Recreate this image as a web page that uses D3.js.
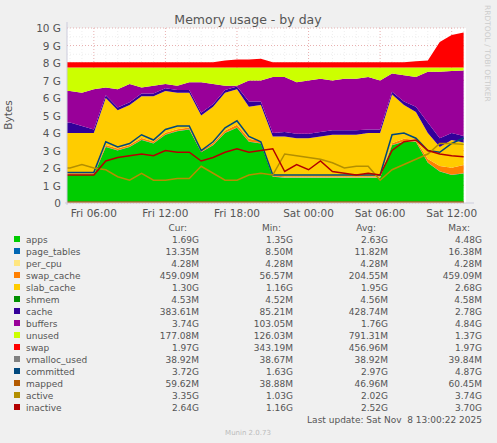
<!DOCTYPE html>
<html><head><meta charset="utf-8">
<script src="https://cdn.jsdelivr.net/npm/d3@7"></script>
<style>body{margin:0;background:#f0f0f0;}text{font-family:"DejaVu Sans",sans-serif;white-space:pre;}</style>
</head><body><svg id="c" width="497" height="443"></svg>
<script>
// hourly samples, Fri 04:00 .. Sat 13:00 (GB)
var hours = d3.range(34);
var apps = [1.6,1.6,1.6,3.2,3.0,3.2,3.6,3.4,3.9,4.1,4.2,2.9,3.3,4.0,4.3,3.5,3.4,1.5,1.45,1.45, 1.45,1.45,1.45,1.45,1.45,1.45,1.45,3.3,3.5,3.5,2.3,1.8,1.6,1.69];
var pageTables = hours.map(function(){return 0.013;});
var perCpu = hours.map(function(){return 0.004;});
var swapCache = [0.08,0.08,0.08,0.1,0.1,0.1,0.1,0.1,0.1,0.1,0.1,0.1,0.1,0.12,0.15,0.15,0.12,0.06,0.06,0.06, 0.06,0.06,0.06,0.06,0.06,0.06,0.06,0.1,0.15,0.1,0.2,0.3,0.4,0.46];
var slabTop = [4.0,4.0,4.0,6.0,5.3,5.6,6.1,6.1,6.4,6.3,6.3,5.0,5.5,6.3,6.5,5.5,5.6,3.8,3.8,3.7, 3.7,3.8,3.9,3.9,3.9,4.0,4.0,6.2,5.6,5.2,4.0,3.2,3.6,3.45];
var shmem = hours.map(function(){return 0.0045;});
var cache = [0.6,0.4,0.2,0.15,0.15,0.15,0.15,0.15,0.15,0.15,0.15,0.15,0.15,0.15,0.15,0.3,0.2,0.2,0.25,0.25, 0.25,0.25,0.25,0.25,0.25,0.2,0.2,0.15,0.2,0.3,0.6,0.5,0.4,0.38];
var buffTop = [6.4,6.3,6.5,6.6,6.5,6.8,6.6,6.7,6.8,6.7,6.9,6.9,6.8,6.7,6.7,7.0,7.0,7.2,7.2,6.9, 7.0,7.1,7.0,7.1,7.1,7.2,7.0,7.4,7.3,7.2,7.5,7.5,7.55,7.57];
var totalTop = [8.05,8.05,8.05,8.05,8.05,8.05,8.05,8.05,8.05,8.05,8.05,8.05,8.05,8.15,8.2,8.2,8.25,8.05,8.05,8.05, 8.05,8.05,8.05,8.05,8.05,8.05,8.05,8.05,8.05,8.1,8.15,9.2,9.6,9.75];
var ram = 7.75;
var committed = [1.75,1.75,1.75,3.5,3.2,3.4,3.9,3.6,4.2,4.4,4.4,3.0,3.5,4.3,4.7,3.8,3.5,1.6,1.6,1.6, 1.6,1.6,1.6,1.6,1.6,1.6,1.6,3.9,4.0,3.7,3.0,2.9,3.4,3.72];
var active = [2.0,2.2,2.0,1.9,1.5,1.3,1.7,1.3,1.3,1.4,1.4,2.1,1.7,1.3,1.3,1.6,1.7,1.6,2.8,2.7, 2.6,2.5,2.3,2.0,2.1,2.1,1.3,1.9,2.2,2.5,2.8,3.4,3.4,3.35];
var inactive = [1.6,1.6,1.6,2.4,2.6,2.7,2.8,2.7,3.0,2.9,2.9,2.4,2.6,2.9,3.1,2.9,3.0,3.1,1.8,2.2, 1.9,2.4,1.8,1.7,1.6,1.7,1.6,3.0,3.5,3.6,3.0,2.8,2.7,2.64];
var vmalloc = hours.map(function(){return 0.039;});
var mapped = hours.map(function(){return 0.05;});
var xTicks = ["Fri 06:00","Fri 12:00","Fri 18:00","Sat 00:00","Sat 06:00","Sat 12:00"];
var yTicks = [0,1,2,3,4,5,6,7,8,9,10];

var legendRows = [
 ["apps","#00CC00","1.69G","1.35G","2.63G","4.48G"],
 ["page_tables","#0066B3","13.35M","8.50M","11.82M","16.38M"],
 ["per_cpu","#FFE680","4.28M","4.28M","4.28M","4.28M"],
 ["swap_cache","#FF8000","459.09M","56.57M","204.55M","459.09M"],
 ["slab_cache","#FFCC00","1.30G","1.16G","1.95G","2.68G"],
 ["shmem","#008F00","4.53M","4.52M","4.56M","4.58M"],
 ["cache","#330099","383.61M","85.21M","428.74M","2.78G"],
 ["buffers","#990099","3.74G","103.05M","1.76G","4.84G"],
 ["unused","#CCFF00","177.08M","126.03M","791.31M","1.37G"],
 ["swap","#FF0000","1.97G","343.19M","456.96M","1.97G"],
 ["vmalloc_used","#808080","38.92M","38.67M","38.92M","39.84M"],
 ["committed","#00487D","3.72G","1.63G","2.97G","4.87G"],
 ["mapped","#B35A00","59.62M","38.88M","46.96M","60.45M"],
 ["active","#B38F00","3.35G","1.03G","2.02G","3.74G"],
 ["inactive","#B30000","2.64G","1.16G","2.52G","3.70G"]
];

var svg = d3.select("#c");
var L = 67, R = 466, T = 28, B = 203;
var x = d3.scaleLinear().domain([-0.25, 33.2]).range([L, R]);
var y = d3.scaleLinear().domain([0, 10]).range([B, T]);

svg.append("rect").attr("x", L).attr("y", T).attr("width", R - L).attr("height", B - T).attr("fill", "#fff");

// grid
var g = svg.append("g");
d3.range(0, 10.01, 0.5).forEach(function(v){
  g.append("line").attr("x1", L).attr("x2", R).attr("y1", y(v)).attr("y2", y(v))
   .attr("stroke", v % 1 ? "#eee" : "#e8b0b0").attr("stroke-dasharray", "1,2");
});
d3.range(-1, 34, 1).forEach(function(h){
  var px = x(h); if (px < L || px > R) return;
  g.append("line").attr("y1", T).attr("y2", B).attr("x1", px).attr("x2", px)
   .attr("stroke", (h + 4) % 6 === 0 ? "#e8b0b0" : "#eee").attr("stroke-dasharray", "1,2");
});

// stacked layers
var layers = [];
var base = hours.map(function(){return 0;});
function add(vals, color){
  var lo = base.slice();
  var hi = base.map(function(b, i){return b + vals[i];});
  layers.push({lo: lo, hi: hi, color: color});
  base = hi;
}
add(apps, "#00CC00");
add(pageTables, "#0066B3");
add(perCpu, "#FFE680");
add(swapCache, "#FF8000");
add(slabTop.map(function(t, i){return t - base[i];}), "#FFCC00");
add(shmem, "#008F00");
add(cache, "#330099");
add(buffTop.map(function(t, i){return Math.max(0, t - base[i]);}), "#990099");
add(buffTop.map(function(t, i){return ram - Math.max(t, base[i]);}), "#CCFF00");
add(totalTop.map(function(t, i){return t - base[i];}), "#FF0000");

var xs = [-0.25].concat(hours);
function ext(a){return [a[0]].concat(a);}
layers.forEach(function(l){
  var lo = ext(l.lo), hi = ext(l.hi);
  svg.append("path").datum(xs).attr("fill", l.color)
    .attr("d", d3.area().x(function(d){return x(d);})
      .y0(function(d, i){return y(lo[i]);}).y1(function(d, i){return y(hi[i]);}));
});

function line(vals, color){
  var v = ext(vals);
  svg.append("path").datum(xs).attr("fill", "none").attr("stroke", color).attr("stroke-width", 1.5)
    .attr("d", d3.line().x(function(d){return x(d);}).y(function(d, i){return y(v[i]);}));
}
line(vmalloc, "#808080");
line(mapped, "#B35A00");
line(committed, "#00487D");
line(active, "#B38F00");
line(inactive, "#B30000");

// axes
svg.append("line").attr("x1", L - 2).attr("x2", R + 8).attr("y1", B).attr("y2", B).attr("stroke", "#ccd");
svg.append("line").attr("x1", L).attr("x2", L).attr("y1", B + 2).attr("y2", T - 6).attr("stroke", "#ccd");
yTicks.forEach(function(v){
  svg.append("text").attr("x", L - 6).attr("y", y(v) + 4).attr("text-anchor", "end")
    .attr("font-size", 10.5).attr("fill", "#555").text(v === 0 ? "0" : v + " G");
});
xTicks.forEach(function(t, i){
  svg.append("text").attr("x", x(2 + i * 6)).attr("y", B + 14).attr("text-anchor", "middle")
    .attr("font-size", 10.5).attr("fill", "#555").text(t);
});
svg.append("text").attr("x", 248).attr("y", 24).attr("text-anchor", "middle")
  .attr("font-size", 12.5).attr("fill", "#555").text("Memory usage - by day");
svg.append("text").attr("transform", "translate(12,115) rotate(-90)").attr("text-anchor", "middle")
  .attr("font-size", 10.5).attr("fill", "#555").text("Bytes");
svg.append("text").attr("transform", "translate(485,5) rotate(90)")
  .attr("font-size", 7.5).attr("fill", "#ccc").text("RRDTOOL / TOBI OETIKER");

// legend
var mono = "DejaVu Sans Mono";
var cols = [199, 293, 388, 482];
["Cur:", "Min:", "Avg:", "Max:"].forEach(function(h, i){
  svg.append("text").attr("x", cols[i] - 12).attr("y", 231).attr("text-anchor", "end")
    .attr("font-family", mono).attr("font-size", 9).attr("fill", "#555").text(h);
});
legendRows.forEach(function(r, i){
  var yy = 243 + i * 12;
  svg.append("rect").attr("x", 14).attr("y", yy - 7).attr("width", 6).attr("height", 6).attr("fill", r[1]);
  svg.append("text").attr("x", 26).attr("y", yy).attr("font-family", mono).attr("font-size", 9)
    .attr("fill", "#555").text(r[0]);
  for (var k = 0; k < 4; k++) {
    svg.append("text").attr("x", cols[k]).attr("y", yy).attr("text-anchor", "end")
      .attr("font-family", mono).attr("font-size", 9).attr("fill", "#555").text(r[k + 2]);
  }
});
svg.append("text").attr("x", 482).attr("y", 423).attr("text-anchor", "end").attr("font-family", mono)
  .attr("font-size", 9).attr("fill", "#555").text("Last update: Sat Nov  8 13:00:22 2025");
svg.append("text").attr("x", 248).attr("y", 435).attr("text-anchor", "middle")
  .attr("font-size", 7).attr("fill", "#bbb").text("Munin 2.0.73");
</script></body></html>
